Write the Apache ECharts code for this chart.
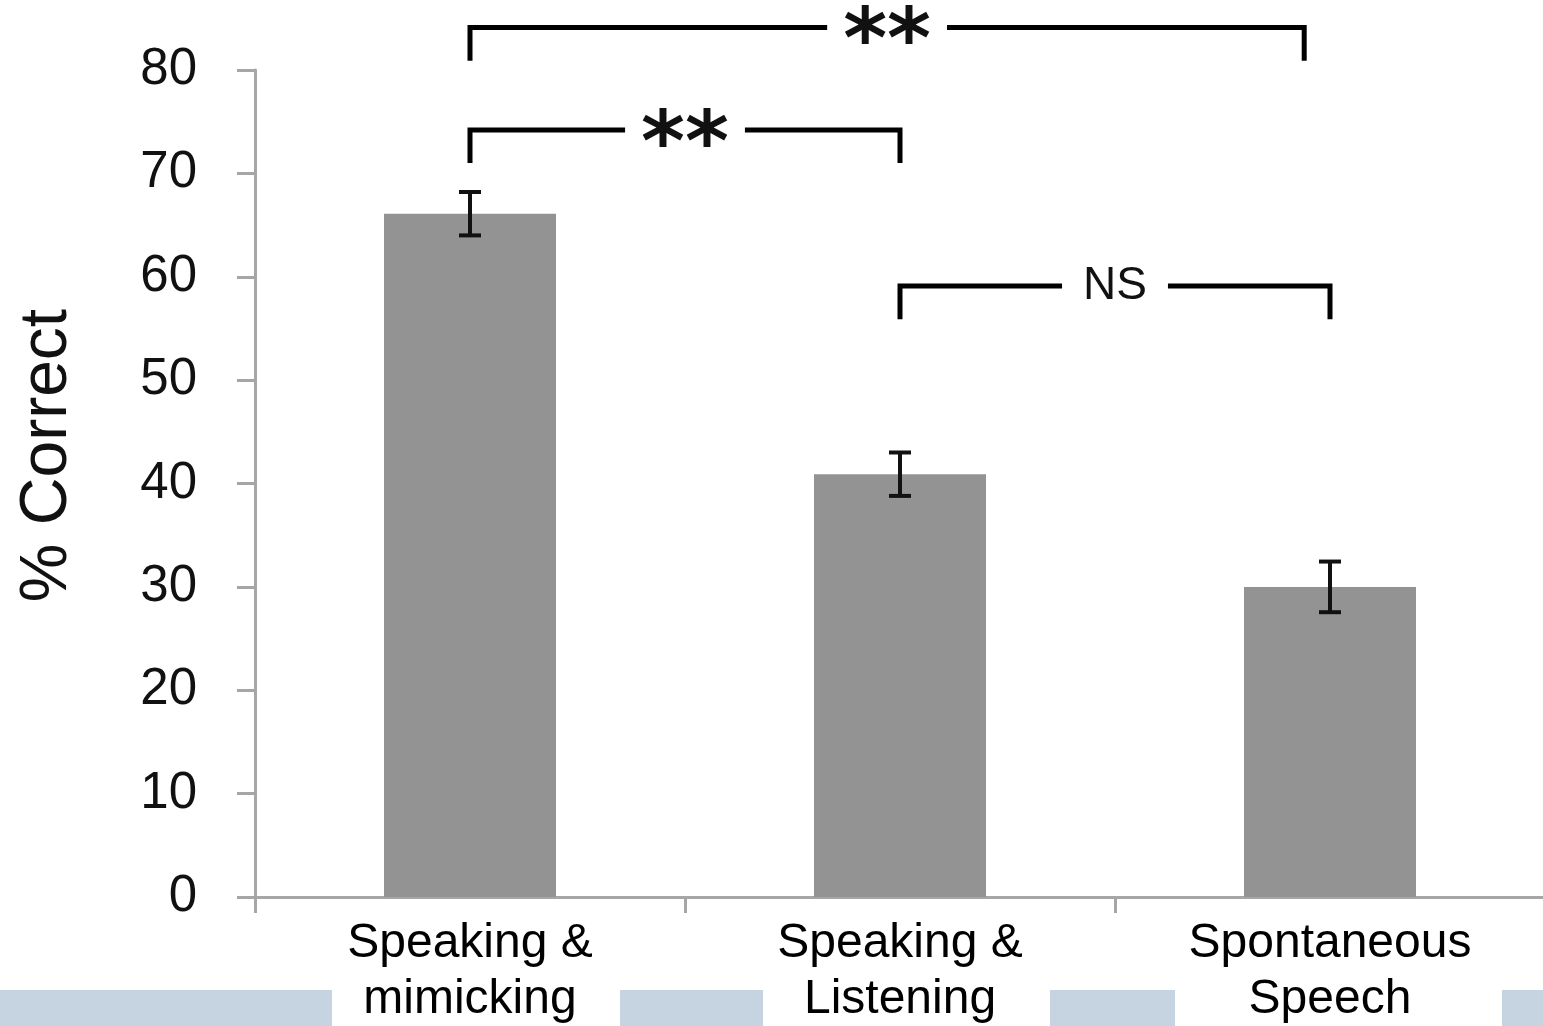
<!DOCTYPE html>
<html>
<head>
<meta charset="utf-8">
<script src="https://cdn.jsdelivr.net/npm/echarts@6/dist/echarts.min.js"></script>
<style>
  html, body { margin: 0; padding: 0; background: #ffffff; }
  #chart { width: 1543px; height: 1026px; }
</style>
</head>
<body>
<div id="chart"></div>
<script>
// Conditions and mean % correct with their error margins
const categories = ['Speaking &\nmimicking', 'Speaking &\nListening', 'Spontaneous\nSpeech'];
const percentCorrect = [66.1, 40.9, 30.0];
const errorMargins = [2.1, 2.1, 2.45];

// Value axis range
const yMin = 0;
const yMax = 80;
const yStep = 10;

// Pairwise comparisons: category positions joined, bracket level (%), and verdict
const comparisonFrom = [0, 0, 1];
const comparisonTo = [1.94, 1, 2];
const comparisonLevel = [84.1, 74.2, 59.1];
const comparisonLabels = ['**', '**', 'NS'];

const FONT = '"Liberation Sans", Arial, Helvetica, sans-serif';
const STAR_FONT = '"DejaVu Sans", sans-serif';
const AXIS_GREY = '#a6a6a6';
const BRACKET_LEG = 3.2;   // depth of the bracket legs, in % units

const measureCtx = document.createElement('canvas').getContext('2d');
function textWidth(str, font) {
  measureCtx.font = font;
  return measureCtx.measureText(str).width;
}

const chart = echarts.init(document.getElementById('chart'), null, { renderer: 'canvas' });

function xPixel(api, pos) {
  const base = Math.floor(pos);
  const frac = pos - base;
  const bw = api.size([1, 0])[0];
  return api.coord([base, 0])[0] + frac * bw;
}

function renderErrorBar(params, api) {
  const idx = api.value(0);
  const x = api.coord([idx, 0])[0];
  const yHi = api.coord([idx, api.value(2)])[1];
  const yLo = api.coord([idx, api.value(1)])[1];
  const cap = 11;
  const style = { stroke: '#111111', lineWidth: 4 };
  return {
    type: 'group',
    children: [
      { type: 'line', shape: { x1: x, y1: yHi, x2: x, y2: yLo }, style },
      { type: 'line', shape: { x1: x - cap, y1: yHi, x2: x + cap, y2: yHi }, style },
      { type: 'line', shape: { x1: x - cap, y1: yLo, x2: x + cap, y2: yLo }, style }
    ]
  };
}

function renderBracket(params, api) {
  const i = api.value(2);
  const x1 = xPixel(api, comparisonFrom[i]);
  const x2 = xPixel(api, comparisonTo[i]);
  const y = api.coord([0, comparisonLevel[i]])[1];
  const yLeg = api.coord([0, comparisonLevel[i] - BRACKET_LEG])[1];
  const label = comparisonLabels[i];
  const isStar = label.indexOf('*') >= 0;
  const family = isStar ? STAR_FONT : FONT;
  const fontSize = isStar ? 84 : 46;
  const fontWeight = isStar ? 'bold' : 'normal';
  const w = textWidth(label, fontWeight + ' ' + fontSize + 'px ' + family);
  const cx = (x1 + x2) / 2;
  const gap = isStar ? 16 : 21;
  const lineStyle = { stroke: '#000000', lineWidth: 5, fill: null, lineJoin: 'miter', lineCap: 'butt' };
  return {
    type: 'group',
    children: [
      { type: 'polyline', shape: { points: [[x1, yLeg], [x1, y], [cx - w / 2 - gap, y]] }, style: lineStyle },
      { type: 'polyline', shape: { points: [[cx + w / 2 + gap, y], [x2, y], [x2, yLeg]] }, style: lineStyle },
      {
        type: 'text',
        x: cx,
        y: y + (isStar ? 18 : 0),
        style: {
          text: label,
          fontFamily: family,
          fontSize: fontSize,
          fontWeight: fontWeight,
          fill: '#111111',
          align: 'center',
          verticalAlign: 'middle'
        }
      }
    ]
  };
}

const bottomBand = [[0, 332], [620, 763], [1050, 1175], [1502, 1543]].map(([a, b]) => ({
  type: 'rect',
  z: -10,
  shape: { x: a, y: 990, width: b - a, height: 36 },
  style: { fill: '#c6d3e0' }
}));

chart.setOption({
  animation: false,
  backgroundColor: '#ffffff',
  graphic: bottomBand,
  grid: { left: 255, right: -2, top: 70, bottom: 129, containLabel: false, outerBoundsMode: 'none' },
  xAxis: {
    type: 'category',
    data: categories,
    boundaryGap: true,
    axisLine: { show: true, lineStyle: { color: AXIS_GREY, width: 3 } },
    axisTick: { show: true, length: 16, lineStyle: { color: AXIS_GREY, width: 3 } },
    axisLabel: {
      fontFamily: FONT, fontSize: 48, lineHeight: 56, color: '#000000', margin: 19, interval: 0
    },
    splitLine: { show: false }
  },
  yAxis: {
    type: 'value',
    min: yMin, max: yMax, interval: yStep,
    name: '% Correct',
    nameLocation: 'middle',
    nameGap: 174,
    nameRotate: 90,
    nameTextStyle: { fontFamily: FONT, fontSize: 66, color: '#111111', padding: [0, 0, 0, 56] },
    axisLine: { show: true, lineStyle: { color: AXIS_GREY, width: 3 } },
    axisTick: { show: true, length: 18, lineStyle: { color: AXIS_GREY, width: 3 } },
    axisLabel: { fontFamily: FONT, fontSize: 51, color: '#111111', margin: 58 },
    splitLine: { show: false }
  },
  series: [
    {
      type: 'bar',
      data: percentCorrect,
      barWidth: '40%',
      itemStyle: { color: '#939393' },
      z: 2
    },
    {
      type: 'custom',
      renderItem: renderErrorBar,
      data: percentCorrect.map((v, i) => [i, v - errorMargins[i], v + errorMargins[i]]),
      encode: { x: 0, y: [1, 2] },
      z: 3
    },
    {
      type: 'custom',
      renderItem: renderBracket,
      clip: false,
      data: comparisonLabels.map((_, i) => [comparisonFrom[i], comparisonLevel[i], i]),
      encode: { x: 0, y: 1 },
      z: 4
    }
  ]
});
</script>
</body>
</html>
